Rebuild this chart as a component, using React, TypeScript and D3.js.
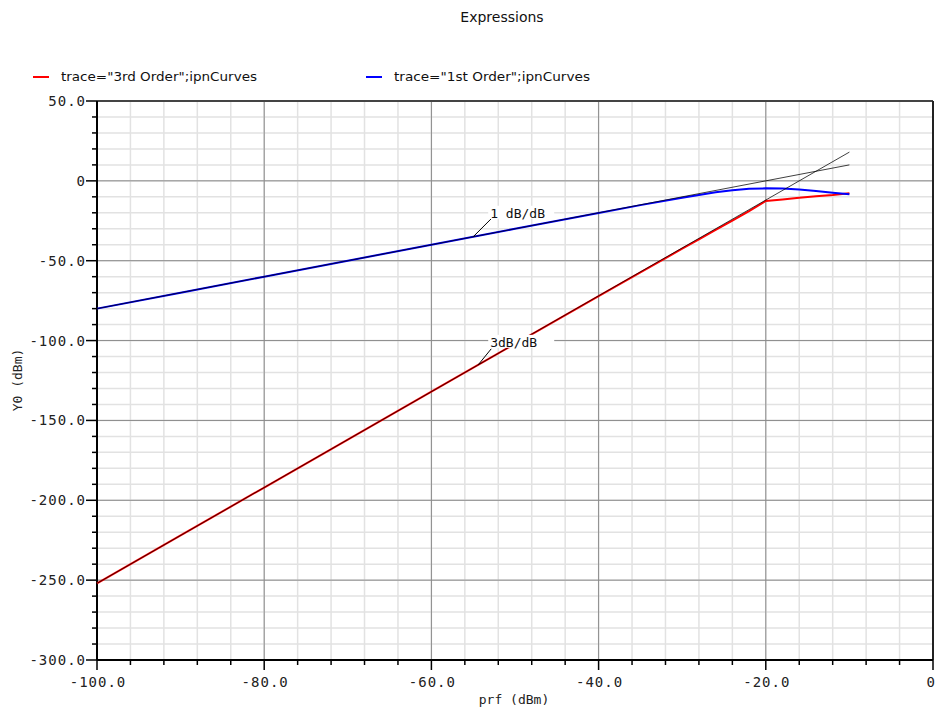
import React from "react";
import * as d3 from "d3";

// input power sweep (dBm)
const prf = [-100, -90, -80, -70, -60, -50, -40, -35, -30, -28, -26, -24, -22, -20, -18, -16, -14, -12, -10];
// output of 1st order and 3rd order products (dBm)
const firstOrder = [-80, -70, -60, -50, -40, -30, -20.1, -15.2, -10.6, -8.8, -7.1, -5.9, -5.0, -4.7, -4.8, -5.4, -6.3, -7.4, -8.4];
const thirdOrder = [-252, -222, -192, -162, -132, -102, -72.2, -57.3, -42.5, -36.6, -30.7, -24.9, -19, -12.6, -11.6, -10.6, -9.7, -8.9, -7.8];

// extrapolated slope lines
const line1X = [-100, -10];
const line1Y = [-80, 10];
const line3X = [-100, -10];
const line3Y = [-252, 18];

const xTicks = [-100, -80, -60, -40, -20, 0];
const xTickLabels = ["-100.0", "-80.0", "-60.0", "-40.0", "-20.0", "0"];
const yTicks = [50, 0, -50, -100, -150, -200, -250, -300];
const yTickLabels = ["50.0", "0", "-50.0", "-100.0", "-150.0", "-200.0", "-250.0", "-300.0"];

const legendItems = [
  { label: 'trace="3rd Order";ipnCurves', color: "#ff0000" },
  { label: 'trace="1st Order";ipnCurves', color: "#0000ff" },
];

const W = 936;
const H = 712;
const margin = { top: 101, right: 3, bottom: 52, left: 97 };
const monoFont = "'DejaVu Sans Mono', monospace";

export default function App() {
  const x = d3.scaleLinear().domain([-100, 0]).range([margin.left, W - margin.right]);
  const y = d3.scaleLinear().domain([-300, 50]).range([H - margin.bottom, margin.top]);

  const minorX = d3.range(-100, 0.1, 4);
  const minorY = d3.range(-300, 50.1, 10);

  const path = (xs: number[], ys: number[]) =>
    d3
      .line<number>()
      .x((d) => x(d))
      .y((d, i) => y(ys[i]))(xs) as string;

  // label anchors on the extrapolated lines
  const a1 = { x: x(-55), y: y(-35) };
  const a3 = { x: x(-54.4), y: y(-115.2) };

  return (
    <div style={{ position: "absolute", left: 0, top: 0 }}>
      <svg width={W} height={H} style={{ display: "block", background: "#fff" }}>
        <text x={502} y={22} textAnchor="middle" fontFamily="'DejaVu Sans', sans-serif" fontSize={14} fill="#111">
          Expressions
        </text>

        {/* legend */}
        {legendItems.map((d, i) => (
          <g key={d.label} transform={`translate(${33 + i * 333}, 77)`}>
            <line x1={0} x2={16} y1={0} y2={0} stroke={d.color} strokeWidth={2} />
            <text x={28} y={4} fontFamily="'DejaVu Sans Condensed', 'DejaVu Sans', sans-serif" fontSize={12}
              textLength={196} lengthAdjust="spacingAndGlyphs" fill="#111">
              {d.label}
            </text>
          </g>
        ))}

        {/* minor grid */}
        {minorX.map((v) => (
          <line key={"mx" + v} x1={x(v)} x2={x(v)} y1={y(50)} y2={y(-300)} stroke="#e2e2e2" strokeWidth={1.5} />
        ))}
        {minorY.map((v) => (
          <line key={"my" + v} x1={x(-100)} x2={x(0)} y1={y(v)} y2={y(v)} stroke="#e2e2e2" strokeWidth={1.5} />
        ))}
        {/* major grid */}
        {xTicks.map((v) => (
          <line key={"gx" + v} x1={x(v)} x2={x(v)} y1={y(50)} y2={y(-300)} stroke="#8a8a8a" strokeWidth={1} />
        ))}
        {yTicks.map((v) => (
          <line key={"gy" + v} x1={x(-100)} x2={x(0)} y1={y(v)} y2={y(v)} stroke="#8a8a8a" strokeWidth={1} />
        ))}

        {/* frame */}
        <line x1={x(-100)} x2={x(0)} y1={y(50)} y2={y(50)} stroke="#444" strokeWidth={2} />
        <line x1={x(0)} x2={x(0)} y1={y(50)} y2={y(-300)} stroke="#222" strokeWidth={2} />
        <line x1={x(-100)} x2={x(-100)} y1={y(50)} y2={y(-300)} stroke="#000" strokeWidth={2} />
        <line x1={x(-100)} x2={x(0)} y1={y(-300)} y2={y(-300)} stroke="#000" strokeWidth={2} />

        {/* axis ticks */}
        {minorY.map((v) => (
          <line key={"ty" + v} x1={x(-100) - (v % 50 === 0 ? 11 : 5)} x2={x(-100)} y1={y(v)} y2={y(v)} stroke="#000" strokeWidth={1.5} />
        ))}
        {minorX.map((v) => (
          <line key={"tx" + v} x1={x(v)} x2={x(v)} y1={y(-300)} y2={y(-300) + (v % 20 === 0 ? 10 : 5)} stroke="#000" strokeWidth={1.5} />
        ))}

        {/* tick labels */}
        {yTicks.map((v, i) => (
          <text key={"ly" + v} x={x(-100) - 11} y={y(v) + 5} textAnchor="end" fontFamily={monoFont} fontSize={14}
            letterSpacing={1} fill="#222">
            {yTickLabels[i]}
          </text>
        ))}
        {xTicks.map((v, i) => {
          const last = i === xTicks.length - 1;
          return (
            <text key={"lx" + v} x={last ? W - 1 : x(v) + 1} y={y(-300) + 27} textAnchor={last ? "end" : "middle"}
              fontFamily={monoFont} fontSize={14} letterSpacing={last ? 0 : 1} fill="#222">
              {xTickLabels[i]}
            </text>
          );
        })}

        {/* axis titles */}
        <text x={514} y={704} textAnchor="middle" fontFamily={monoFont} fontSize={13} fill="#222">
          prf (dBm)
        </text>
        <text transform={`translate(22, 380) rotate(-90)`} textAnchor="middle" fontFamily={monoFont} fontSize={13} fill="#222">
          Y0 (dBm)
        </text>

        {/* curves */}
        <path d={path(prf, thirdOrder)} fill="none" stroke="#ff0000" strokeWidth={2} />
        <path d={path(prf, firstOrder)} fill="none" stroke="#0000ff" strokeWidth={2} />
        <path d={path(line1X, line1Y)} fill="none" stroke="#000" strokeWidth={1} strokeOpacity={0.75} />
        <path d={path(line3X, line3Y)} fill="none" stroke="#000" strokeWidth={1} strokeOpacity={0.75} />

        {/* slope labels */}
        <line x1={a1.x} y1={a1.y} x2={a1.x + 18} y2={a1.y - 18} stroke="#000" strokeWidth={1} />
        <rect x={a1.x + 15} y={a1.y - 31} width={66} height={13} fill="#fff" />
        <text x={a1.x + 17} y={a1.y - 19} fontFamily={monoFont} fontSize={13} fill="#111">
          1 dB/dB
        </text>
        <line x1={a3.x} y1={a3.y} x2={a3.x + 13} y2={a3.y - 16} stroke="#000" strokeWidth={1} />
        <rect x={a3.x + 10} y={a3.y - 30} width={66} height={13} fill="#fff" />
        <text x={a3.x + 12} y={a3.y - 18} fontFamily={monoFont} fontSize={13} fill="#111">
          3dB/dB
        </text>
      </svg>
    </div>
  );
}
